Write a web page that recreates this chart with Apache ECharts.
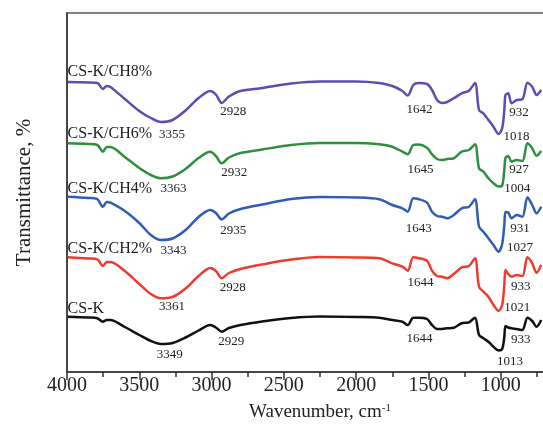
<!DOCTYPE html>
<html><head><meta charset="utf-8">
<script src="https://cdn.jsdelivr.net/npm/echarts@6/dist/echarts.min.js"></script>
<style>html,body{margin:0;padding:0;background:#fff;overflow:hidden;width:543px;height:428px}#c{width:576px;height:428px}</style>
</head><body><div id="c"></div>
<script>
// Wavenumber (cm-1) sample positions shared by all spectra
const wavenumbers = [3996, 3850, 3790, 3752, 3725, 3700, 3600, 3500, 3420, 3350,
  3270, 3180, 3090, 3010, 2970, 2930, 2880, 2800, 2650, 2450,
  2250, 2000, 1840, 1750, 1680, 1643, 1605, 1570, 1510, 1475,
  1440, 1405, 1370, 1325, 1270, 1220, 1178, 1150, 1120, 1085,
  1050, 1015, 990, 975, 967, 948, 925, 890, 850, 815,
  782, 752, 720];

// Transmittance (arbitrary, offset) per sample
const csK = [55.3, 54.5, 53.7, 50.3, 52, 52, 45, 37, 31, 28,
  29, 34.5, 41.5, 47, 44.5, 40.3, 44, 47, 50.5, 54,
  55.5, 55, 54.3, 52, 50.3, 47, 54.3, 54.3, 53, 47,
  43, 43, 43.7, 44.3, 48.7, 49.7, 54.3, 37, 33.7, 30.3,
  25.3, 21.5, 23, 35, 46, 44.5, 43.7, 43, 42, 54.3,
  51, 45.3, 52];
const ch2 = [114.7, 113.5, 112.7, 106, 110, 110, 101, 88, 78, 73.7,
  75, 83.5, 96, 104, 101, 93.7, 99, 103, 107.5, 112.5,
  115, 114.5, 113.7, 108.7, 105.3, 101.3, 114.7, 114, 111.3, 101.3,
  96, 95.3, 93.7, 98, 104.7, 106, 113.7, 85.3, 80.3, 75.3,
  67, 61, 67, 87, 102, 98, 95.3, 97, 96, 114.7,
  108.7, 99.3, 107];
const ch4 = [175.3, 174, 172.7, 165.3, 170, 169.3, 161, 149, 137, 132,
  133.5, 142, 155, 162, 159, 152.7, 158.5, 163, 167.5, 173,
  175, 174.5, 172.7, 167, 163.7, 160.3, 173.7, 173, 169.3, 160.3,
  156, 155.3, 153.7, 157, 163.7, 165.3, 172.7, 145.3, 140.3, 133.7,
  127, 120.3, 128, 147, 160, 159.5, 153.7, 157, 155.3, 174.7,
  167, 158.7, 165.3];
const ch6 = [228.7, 228, 227, 220.3, 225, 225, 215, 204, 197, 193.7,
  195.5, 203, 214, 220.3, 216, 208.7, 214.5, 219, 222.5, 227,
  229, 229, 227.7, 225.3, 220.3, 217.7, 227, 227.5, 224.3, 217.7,
  213, 212, 213, 213.7, 220.3, 222, 227.7, 203.7, 200.3, 193.7,
  188.7, 185.5, 186.5, 202, 214, 216, 210.3, 212, 211, 228.7,
  223.7, 216.3, 221];
const ch8 = [290, 289.5, 289, 283, 286, 285, 273, 261, 254, 250,
  252, 261.5, 274, 281, 277.5, 269, 275.5, 281, 284, 288.5,
  290.5, 290.5, 289, 286, 281, 276.5, 287, 289, 288, 282,
  272, 269, 270, 273.7, 278.7, 281.3, 289, 262, 258.7, 252,
  245.3, 238, 243.7, 262, 277, 278.7, 268.7, 272, 272.7, 289.3,
  285.3, 277, 282];

const seriesNames = ['CS-K', 'CS-K/CH2%', 'CS-K/CH4%', 'CS-K/CH6%', 'CS-K/CH8%'];
const xTickLabels = [4000, 3500, 3000, 2500, 2000, 1500, 1000];

// Peak annotations (text)
const peaksCsK = ['3349', '2929', '1644', '933', '1013'];
const peaksCh2 = ['3361', '2928', '1644', '933', '1021'];
const peaksCh4 = ['3343', '2935', '1643', '931', '1027'];
const peaksCh6 = ['3363', '2932', '1645', '927', '1004'];
const peaksCh8 = ['3355', '2928', '1642', '932', '1018'];

// Layout: annotation anchor positions in data space (separate from data)
const layout = {
  peakPos: [
    [[3289, 17], [2864, 30.3], [1562, 33.7], [862, 32], [935, 10.3]],
    [[3273, 65.3], [2853, 84.3], [1555, 89.3], [862, 85.3], [885, 64.3]],
    [[3263, 121], [2850, 141], [1567, 143], [867, 143], [867, 124.3]],
    [[3263, 183.7], [2843, 199.3], [1555, 202], [873, 202], [885, 183.3]],
    [[3273, 237], [2850, 260.3], [1562, 262], [873, 259.3], [890, 235.3]]
  ],
  namePos: [[3996, 63.7], [3996, 123.7], [3996, 183.7], [3996, 238], [3996, 300.3]]
};

const FONT = "'Liberation Serif', 'DejaVu Serif', serif";
const colors = ['#111111', '#ee3b2d', '#2f5cb8', '#2f8f3f', '#5a4db3'];
const values = [csK, ch2, ch4, ch6, ch8];
const peaks = [peaksCsK, peaksCh2, peaksCh4, peaksCh6, peaksCh8];

const series = values.map((vals, i) => {
  const mp = peaks[i].map((t, k) => ({ coord: layout.peakPos[i][k], value: t,
    label: { formatter: t, fontSize: 13 } }));
  mp.push({ coord: layout.namePos[i], value: seriesNames[i],
    label: { formatter: seriesNames[i], fontSize: 16, position: 'right', distance: 0, align: 'left' } });
  return {
    name: seriesNames[i], type: 'line', showSymbol: false, smooth: 0.3,
    data: wavenumbers.map((w, k) => [w, vals[k]]),
    lineStyle: { color: colors[i], width: 2.5 },
    itemStyle: { color: colors[i] },
    z: 2,
    markPoint: {
      symbol: 'rect', symbolSize: 0, silent: true, animation: false,
      label: { show: true, position: 'inside', color: '#222', fontFamily: FONT },
      data: mp
    }
  };
});

const chart = echarts.init(document.getElementById('c'), null, { renderer: 'canvas' });
chart.setOption({
  animation: false,
  backgroundColor: '#fff',
  grid: { left: 67, right: 1, top: 13, bottom: 56, show: true, borderColor: '#555', borderWidth: 1.5 },
  xAxis: {
    type: 'value', inverse: true, min: 500, max: 4000, interval: 500,
    name: 'Wavenumber, cm{sup|-1}', nameLocation: 'middle', nameGap: 31,
    nameTextStyle: { fontFamily: FONT, fontSize: 19, color: '#222',
      rich: { sup: { fontFamily: FONT, fontSize: 11, verticalAlign: 'top', color: '#222' } } },
    axisLine: { show: true, onZero: false, lineStyle: { color: '#333', width: 1.5 } },
    axisTick: { show: true, inside: false, length: 8, lineStyle: { color: '#333', width: 1.5 } },
    minorTick: { show: true, splitNumber: 2, length: 5, lineStyle: { color: '#333', width: 1.5 } },
    splitLine: { show: false }, minorSplitLine: { show: false },
    axisLabel: { fontFamily: FONT, fontSize: 20, color: '#222', margin: 4,
      formatter: v => xTickLabels.includes(v) ? String(v) : '' }
  },
  yAxis: {
    type: 'value', min: 0, max: 359,
    name: 'Transmittance, %', nameLocation: 'middle', nameGap: 32,
    nameTextStyle: { fontFamily: FONT, fontSize: 21, color: '#222' },
    axisLine: { show: true, lineStyle: { color: '#333', width: 1.5 } },
    axisTick: { show: false }, axisLabel: { show: false }, splitLine: { show: false }
  },
  series: series
});
</script></body></html>
